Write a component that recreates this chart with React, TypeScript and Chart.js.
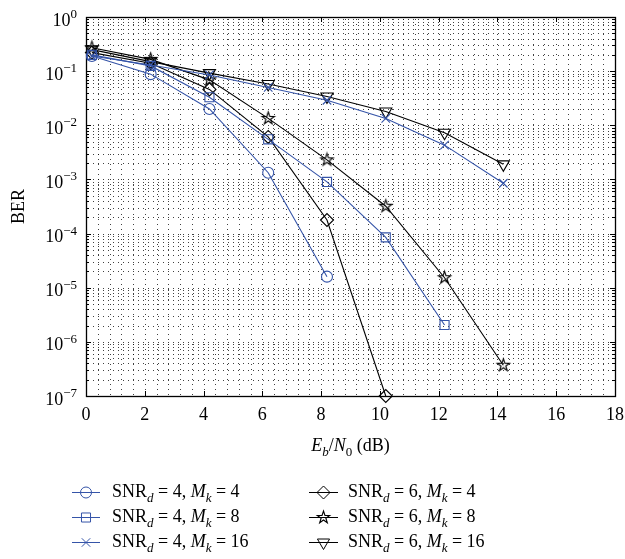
import React, { useEffect, useRef } from 'react';
import { Chart, registerables } from 'chart.js';
import { drawPoint } from 'chart.js/helpers';

Chart.register(...registerables);

// ---- data ----
const xValues = [0.2, 2.2, 4.2, 6.2, 8.2, 10.2, 12.2, 14.2];
const berSnr4Mk4 = [0.19, 0.088, 0.02, 0.00133, 1.6e-5];
const berSnr4Mk8 = [0.2, 0.125, 0.033, 0.0055, 9.0e-4, 8.5e-5, 2.05e-6];
const berSnr4Mk16 = [0.19, 0.13, 0.085, 0.05, 0.029, 0.0134, 0.0043, 8.5e-4];
const berSnr6Mk4 = [0.22, 0.14, 0.046, 0.0061, 1.78e-4, 1.0e-7];
const berSnr6Mk8 = [0.27, 0.165, 0.069, 0.0134, 0.0023, 3.2e-4, 1.53e-5, 3.7e-7];
const berSnr6Mk16 = [0.25, 0.15, 0.092, 0.058, 0.034, 0.018, 0.0073, 0.0019];

const snrLabels = [4, 4, 4, 6, 6, 6];
const mkLabels = [4, 8, 16, 4, 8, 16];

const xTickLabels = [0, 2, 4, 6, 8, 10, 12, 14, 16, 18];
const yTickExponents = [0, -1, -2, -3, -4, -5, -6, -7];

const BLUE = '#3554a8';
const BLACK = '#000000';
const FONT = '"Liberation Serif", "Times New Roman", serif';
const FS = 18;

function makeStar(r: number, color: string): HTMLCanvasElement {
  const size = 2 * Math.ceil(r) + 3;
  const c = document.createElement('canvas');
  c.width = size;
  c.height = size;
  const ctx = c.getContext('2d')!;
  ctx.translate(size / 2, size / 2);
  ctx.beginPath();
  for (let i = 0; i < 10; i++) {
    const rad = i % 2 === 0 ? r : r * 0.382;
    const a = -Math.PI / 2 + (i * Math.PI) / 5;
    const px = rad * Math.cos(a);
    const py = rad * Math.sin(a);
    if (i === 0) ctx.moveTo(px, py);
    else ctx.lineTo(px, py);
  }
  ctx.closePath();
  ctx.strokeStyle = color;
  ctx.lineWidth = 1.1;
  ctx.stroke();
  return c;
}

type Run = { t: string; i?: boolean; s?: boolean; p?: boolean };

function runFont(r: Run) {
  return `${r.i ? 'italic ' : ''}${r.s || r.p ? 13 : FS}px ${FONT}`;
}

function drawRich(ctx: CanvasRenderingContext2D, runs: Run[], x: number, y: number, align: 'left' | 'center' | 'right') {
  ctx.save();
  ctx.textBaseline = 'alphabetic';
  ctx.textAlign = 'left';
  let total = 0;
  for (const r of runs) {
    ctx.font = runFont(r);
    total += ctx.measureText(r.t).width;
  }
  let cx = align === 'center' ? x - total / 2 : align === 'right' ? x - total : x;
  for (const r of runs) {
    ctx.font = runFont(r);
    ctx.fillText(r.t, cx, r.s ? y + 4.5 : r.p ? y - 7.5 : y);
    cx += ctx.measureText(r.t).width;
  }
  ctx.restore();
}

const legendCols = [
  { x0: 72, x1: 100, tx: 112 },
  { x0: 309, x1: 338, tx: 348 },
];
const legendRows = [492, 517, 542];

export default function App() {
  const ref = useRef<HTMLCanvasElement | null>(null);

  useEffect(() => {
    if (!ref.current) return;
    const star = makeStar(6.5, BLACK);

    const series = [
      { data: berSnr4Mk4, color: BLUE, pointStyle: 'circle' as any, radius: 5.5, rotation: 0 },
      { data: berSnr4Mk8, color: BLUE, pointStyle: 'rect' as any, radius: 6.4, rotation: 0 },
      { data: berSnr4Mk16, color: BLUE, pointStyle: 'crossRot' as any, radius: 6, rotation: 0 },
      { data: berSnr6Mk4, color: BLACK, pointStyle: 'rectRot' as any, radius: 6.5, rotation: 0 },
      { data: berSnr6Mk8, color: BLACK, pointStyle: star as any, radius: 6.5, rotation: 0 },
      { data: berSnr6Mk16, color: BLACK, pointStyle: 'triangle' as any, radius: 7, rotation: 180 },
    ];

    const minorX: number[] = [];
    for (let i = 0; i <= 45; i++) minorX.push(Math.round(i * 4) / 10);
    const logTicks: number[] = [];
    for (let k = -7; k < 0; k++) {
      for (let m = 1; m <= 9; m++) logTicks.push(Number((m * Math.pow(10, k)).toPrecision(3)));
    }
    logTicks.push(1);
    const isPow10 = (v: number) => Math.abs(Math.log10(v) - Math.round(Math.log10(v))) < 1e-9;

    const decor = {
      id: 'decor',
      beforeDatasetsDraw(chart: any) {
        const { ctx, chartArea: a, scales } = chart;
        const xs = scales.x;
        const ys = scales.y;
        ctx.save();
        ctx.strokeStyle = 'rgba(0,0,0,0.75)';
        ctx.lineWidth = 1;
        ctx.setLineDash([1, 4]);
        for (const v of minorX) {
          if (v <= 0 || v >= 18) continue;
          const px = Math.round(xs.getPixelForValue(v)) + 0.5;
          ctx.beginPath();
          ctx.moveTo(px, a.top + 2);
          ctx.lineTo(px, a.bottom);
          ctx.stroke();
        }
        for (const v of logTicks) {
          if (v >= 1 || v <= 1e-7) continue;
          const py = Math.round(ys.getPixelForValue(v)) + 0.5;
          ctx.beginPath();
          ctx.moveTo(a.left + 2, py);
          ctx.lineTo(a.right, py);
          ctx.stroke();
        }
        ctx.setLineDash([]);
        ctx.strokeStyle = '#000';
        ctx.lineWidth = 1;
        // inward ticks
        ctx.beginPath();
        for (const v of xTickLabels) {
          const px = Math.round(xs.getPixelForValue(v)) + 0.5;
          ctx.moveTo(px, a.bottom);
          ctx.lineTo(px, a.bottom - 5);
          ctx.moveTo(px, a.top);
          ctx.lineTo(px, a.top + 5);
        }
        for (const v of logTicks) {
          const py = Math.round(ys.getPixelForValue(v)) + 0.5;
          const len = isPow10(v) ? 5 : 3;
          ctx.moveTo(a.left, py);
          ctx.lineTo(a.left + len, py);
          ctx.moveTo(a.right, py);
          ctx.lineTo(a.right - len, py);
        }
        ctx.stroke();
        ctx.lineWidth = 1.3;
        ctx.strokeRect(Math.round(a.left) + 0.5, Math.round(a.top) + 0.5, Math.round(a.right - a.left), Math.round(a.bottom - a.top));
        ctx.restore();
      },
      afterDraw(chart: any) {
        const { ctx, chartArea: a, scales } = chart;
        ctx.save();
        ctx.fillStyle = '#000';
        // y tick labels 10^e (drawn at the log scale's pixel positions)
        for (const e of yTickExponents) {
          const py = scales.y.getPixelForValue(Math.pow(10, e));
          drawRich(ctx, [{ t: '10' }, { t: e === 0 ? '0' : '\u2212' + String(-e), p: true }], a.left - 9, py + 8.5, 'right');
        }
        drawRich(
          ctx,
          [{ t: 'E', i: true }, { t: 'b', i: true, s: true }, { t: '/' }, { t: 'N', i: true }, { t: '0', s: true }, { t: ' (dB)' }],
          (a.left + a.right) / 2,
          451,
          'center'
        );
        series.forEach((s, idx) => {
          const col = legendCols[Math.floor(idx / 3)];
          const y = legendRows[idx % 3];
          ctx.strokeStyle = s.color;
          ctx.lineWidth = 1;
          ctx.beginPath();
          ctx.moveTo(col.x0, y + 0.5);
          ctx.lineTo(col.x1, y + 0.5);
          ctx.stroke();
          ctx.fillStyle = 'rgba(0,0,0,0)';
          drawPoint(ctx, { pointStyle: s.pointStyle, radius: s.radius, rotation: s.rotation, borderWidth: 1 } as any, (col.x0 + col.x1) / 2, y + 0.5);
          ctx.fillStyle = '#000';
          drawRich(
            ctx,
            [
              { t: 'SNR' },
              { t: 'd', i: true, s: true },
              { t: ` = ${snrLabels[idx]}, ` },
              { t: 'M', i: true },
              { t: 'k', i: true, s: true },
              { t: ` = ${mkLabels[idx]}` },
            ],
            col.tx,
            y + 5,
            'left'
          );
        });
        ctx.restore();
      },
    };

    const chart = new Chart(ref.current, {
      type: 'line',
      data: {
        datasets: series.map((s, idx) => ({
          label: `SNRd = ${snrLabels[idx]}, Mk = ${mkLabels[idx]}`,
          data: s.data.map((v, i) => ({ x: xValues[i], y: v })),
          borderColor: s.color,
          borderWidth: 1.1,
          backgroundColor: 'rgba(0,0,0,0)',
          pointBackgroundColor: 'rgba(0,0,0,0)',
          pointBorderColor: s.color,
          pointBorderWidth: 1.1,
          pointStyle: s.pointStyle,
          pointRadius: s.radius,
          pointRotation: s.rotation,
          tension: 0,
          fill: false,
          clip: false as any,
        })),
      },
      options: {
        responsive: false,
        animation: false,
        devicePixelRatio: 1,
        layout: { padding: { left: 0, top: 17, right: 10, bottom: 123 } },
        plugins: { legend: { display: false }, tooltip: { enabled: false } },
        scales: {
          x: {
            type: 'linear',
            min: 0,
            max: 18,
            afterBuildTicks: (s: any) => {
              s.ticks = minorX.map((v) => ({ value: v }));
            },
            afterFit: (s: any) => {
              s.height = 40;
              s.paddingLeft = 0;
              s.paddingRight = 0;
            },
            grid: { display: false, drawTicks: false },
            border: { display: false },
            ticks: {
              autoSkip: false,
              maxRotation: 0,
              padding: 8,
              color: '#000',
              font: { family: FONT, size: FS },
              callback: (v: any) => (xTickLabels.some((t) => Math.abs(t - v) < 1e-6) ? String(Math.round(v)) : ''),
            },
          },
          y: {
            type: 'logarithmic',
            min: 1e-7,
            max: 1,
            afterBuildTicks: (s: any) => {
              s.ticks = logTicks.map((v) => ({ value: v, major: isPow10(v) }));
            },
            afterFit: (s: any) => {
              s.width = 86;
              s.paddingTop = 0;
              s.paddingBottom = 0;
            },
            grid: { display: false, drawTicks: false },
            border: { display: false },
            title: { display: true, text: 'BER', color: '#000', font: { family: FONT, size: FS }, padding: { top: 8, bottom: 0 } },
            ticks: { display: false },
          },
        },
      },
      plugins: [decor],
    });
    return () => chart.destroy();
  }, []);

  return (
    <div style={{ position: 'absolute', left: 0, top: 0, width: 625, height: 559, background: '#fff' }}>
      <canvas ref={ref} width={625} height={559} style={{ display: 'block' }} />
    </div>
  );
}
